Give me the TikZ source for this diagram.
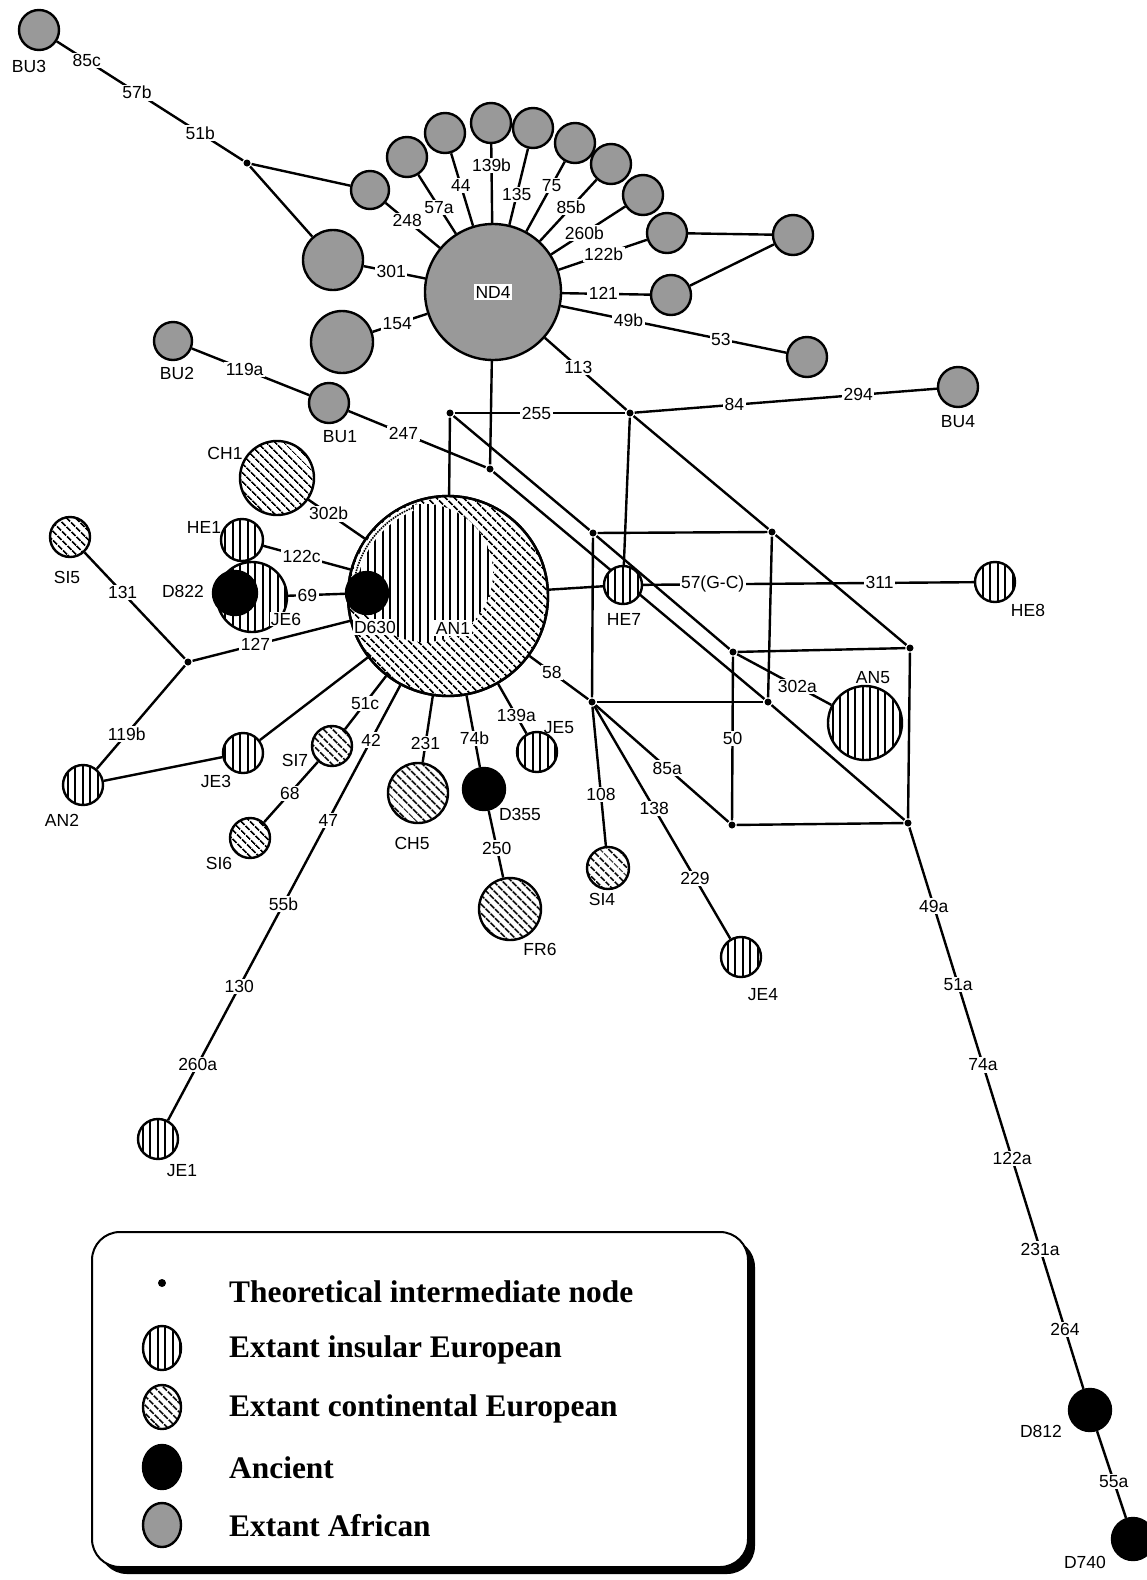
\documentclass[tikz,border=0pt]{standalone}
\usepackage{fontspec}
\setmainfont{Liberation Serif}
\newfontfamily\labfont{Liberation Sans}
\usetikzlibrary{patterns.meta,shapes.geometric}
\pgfdeclarelayer{bg}
\pgfsetlayers{bg,main}
\tikzset{
  hap/.style={circle, draw, line width=2.4pt, inner sep=0pt, minimum size=#1},
  afr/.style={hap=#1, fill=black!40},
  ins/.style={hap=#1, preaction={fill=white}, pattern={Lines[angle=90,distance=7.5pt,line width=2pt]}},
  con/.style={hap=#1, preaction={fill=white}, pattern={Lines[angle=-45,distance=6.5pt,line width=1.9pt]}},
  anc/.style={hap=#1, fill=black},
  jdot/.style={circle, fill=black, inner sep=0pt, minimum size=7pt},
  lab/.style={font=\labfont\fontsize{17.5}{20}\selectfont, inner sep=1.5pt},
  el/.style={lab, fill=white, pos=#1},
  conn/.style={line width=2.4pt},
  legsym/.style={ellipse, draw, line width=2.4pt, inner sep=0pt, minimum width=38pt, minimum height=44pt},
  legtext/.style={font=\bfseries\fontsize{31.4}{36}\selectfont, inner sep=0pt, anchor=west},
}
\begin{document}
\begin{tikzpicture}[x=1pt,y=-1pt,line width=2.4pt]
\useasboundingbox (0,0) rectangle (1147,1580);

% ---------- African ----------
\node[afr=40pt] (BU3) at (39,30) {};
\node[afr=38pt] (A248) at (370,190) {};
\node[afr=60pt] (A301) at (333,260) {};
\node[afr=62pt] (A154) at (342,342) {};
\node[afr=38pt] (BU2) at (173,341) {};
\node[afr=40pt] (BU1) at (329,403) {};
\node[afr=136pt] (ND4) at (493,292) {};
\node[afr=40pt] (P57a) at (407,157) {};
\node[afr=40pt] (P44) at (445,133) {};
\node[afr=40pt] (P139b) at (491,123) {};
\node[afr=40pt] (P135) at (533,128) {};
\node[afr=40pt] (P75) at (575,143) {};
\node[afr=40pt] (P85b) at (611,164) {};
\node[afr=40pt] (P260b) at (643,195) {};
\node[afr=40pt] (P122b) at (667,233) {};
\node[afr=40pt] (Pfar) at (793,235) {};
\node[afr=40pt] (P121) at (671,295) {};
\node[afr=40pt] (P53) at (807,357) {};
\node[afr=40pt] (BU4) at (958,387) {};

% ---------- European / ancient ----------
\node[con=74pt] (CH1) at (277,478) {};
\node[ins=42pt] (HE1) at (242,540) {};
\node[ins=70pt] (JE6) at (252,597) {};
\node[anc=44pt] (D822) at (235,593) {};
\node[con=40pt] (SI5) at (70,537) {};
\node[ins=40pt] (AN2) at (83,785) {};
\node[ins=40pt] (JE3) at (243,753) {};
\node[con=40pt] (SI7) at (332,746) {};
\node[con=40pt] (SI6) at (250,838) {};
\node[con=60pt] (CH5) at (418,793) {};
\node[anc=42pt] (D355) at (484,789) {};
\node[con=62pt] (FR6) at (510,909) {};
\node[ins=40pt] (JE5) at (537,752) {};
\node[con=42pt] (SI4) at (608,868) {};
\node[ins=40pt] (JE4) at (741,957) {};
\node[ins=38pt] (HE7) at (623,585) {};
\node[ins=40pt] (HE8) at (995,582) {};
\node[ins=74pt] (AN5) at (865,723) {};
\node[ins=40pt] (JE1) at (158,1139) {};
\node[anc=42pt] (D812) at (1090,1410) {};
\node[anc=42pt] (D740) at (1133,1539) {};

% ---------- AN1 composite ----------
\node[con=200pt] (AN1) at (448,596) {};
\begin{scope}
  \clip (AN1.center) circle[radius=99pt];
  \fill[white] (424,573) circle[radius=69pt];
  \fill[pattern={Lines[angle=90,distance=7.5pt,line width=2pt]}] (424,573) circle[radius=69pt];
  \draw[white, line width=6pt] ([shift={(112:95pt)}]AN1.center) arc[start angle=112, end angle=176, radius=95pt];
  \draw[densely dotted, line width=1.6pt] ([shift={(112:95pt)}]AN1.center) arc[start angle=112, end angle=176, radius=95pt];
\end{scope}
\draw[line width=2.4pt] (AN1.center) circle[radius=100pt];
\node[anc=42pt] (D630) at (367,593) {};

% ---------- intermediate nodes ----------
\node[jdot] (J1) at (247,163) {};
\node[jdot] (J2) at (490,469) {};
\node[jdot] (J3) at (188,662) {};
\node[jdot] (A) at (630,413) {};
\node[jdot] (B) at (450,413) {};
\node[jdot] (C) at (772,532) {};
\node[jdot] (D) at (593,533) {};
\node[jdot] (E) at (910,648) {};
\node[jdot] (F) at (733,652) {};
\node[jdot] (G) at (768,702) {};
\node[jdot] (H) at (908,823) {};
\node[jdot] (K) at (592,702) {};
\node[jdot] (L) at (732,825) {};

% ---------- names ----------
\node[lab, fill=white] (tND4) at (ND4) {ND4};
\node[lab, fill=white] (tD630) at (375,627) {D630};
\node[lab, fill=white] (tAN1) at (453,628) {AN1};
\node[lab, fill=white, inner sep=0.5pt] (tJE6) at (286,619) {JE6};
\node[lab] (tBU3) at (29,66) {BU3};
\node[lab] (tBU2) at (177,373) {BU2};
\node[lab] (tBU1) at (340,437) {BU1};
\node[lab] (tBU4) at (958,422) {BU4};
\node[lab] (tCH1) at (225,453) {CH1};
\node[lab] (tHE1) at (204,527) {HE1};
\node[lab] (tD822) at (183,591) {D822};
\node[lab] (tSI5) at (67,577) {SI5};
\node[lab] (tJE3) at (216,781) {JE3};
\node[lab] (tAN2) at (62,820) {AN2};
\node[lab] (tSI7) at (295,760) {SI7};
\node[lab] (tSI6) at (219,863) {SI6};
\node[lab] (tCH5) at (412,843) {CH5};
\node[lab] (tD355) at (520,814) {D355};
\node[lab] (tFR6) at (540,949) {FR6};
\node[lab] (tSI4) at (602,899) {SI4};
\node[lab] (tJE4) at (763,995) {JE4};
\node[lab] (tJE5) at (559,728) {JE5};
\node[lab] (tHE7) at (624,619) {HE7};
\node[lab] (tHE8) at (1028,610) {HE8};
\node[lab] (tAN5) at (873,678) {AN5};
\node[lab] (tD812) at (1041,1431) {D812};
\node[lab] (tD740) at (1085,1562) {D740};
\node[lab] (tJE1) at (182,1171) {JE1};

% ---------- connectors ----------
\begin{pgfonlayer}{bg}
\begin{scope}[conn]
\draw (BU3) -- node[el=.16]{85c} node[el=.43]{57b} node[el=.77]{51b} (J1);
\draw (J1) -- (A248);
\draw (J1) -- (A301);
\draw (A248) -- node[el=.4]{248} (ND4);
\draw (A301) -- node[el=.45]{301} (ND4);
\draw (A154) -- node[el=.45]{154} (ND4);
\draw (P57a) -- node[el=.55]{57a} (ND4);
\draw (P44) -- node[el=.45]{44} (ND4);
\draw (P139b) -- node[el=.27]{139b} (ND4);
\draw (P135) -- node[el=.6]{135} (ND4);
\draw (P75) -- node[el=.34]{75} (ND4);
\draw (P85b) -- node[el=.45]{85b} (ND4);
\draw (P260b) -- node[el=.55]{260b} (ND4);
\draw (P122b) -- node[el=.49]{122b} (ND4);
\draw (P121) -- node[el=.53]{121} (ND4);
\draw (Pfar) -- (P122b);
\draw (Pfar) -- (P121);
\draw (ND4) -- node[el=.3]{49b} node[el=.71]{53} (P53);
\draw (ND4) -- node[el=.41]{113} (A);
\draw (A) -- (C);
\draw (C) -- (E);
\draw (A) -- node[el=.33]{84} node[el=.74]{294} (BU4);
\draw (B) -- node[el=.48]{255} (A);
\draw (B) -- (AN1);
\draw (B) -- (D);
\draw (D) -- (F);
\draw (ND4) -- (J2);
\draw (BU1) -- node[el=.4]{247} (J2);
\draw (BU2) -- node[el=.45]{119a} (BU1);
\draw (J2) -- (G);
\draw (G) -- (H);
\draw (D) -- (C);
\draw (D) -- (K);
\draw (K) -- (G);
\draw (C) -- (G);
\draw (F) -- (E);
\draw (F) -- node[el=.5]{50} (L);
\draw (L) -- (H);
\draw (E) -- (H);
\draw (A) -- (HE7);
\draw (AN1) -- (HE7);
\draw (HE7) -- node[el=.21]{57(G-C)} node[el=.715]{311} (HE8);
\draw (F) -- node[el=.64]{302a} (AN5);
\draw (AN1) -- node[el=.38]{58} (K);
\draw (K) -- node[el=.54]{85a} (L);
\draw (K) -- node[el=.63]{108} (SI4);
\draw (K) -- node[el=.44]{138} node[el=.74]{229} (JE4);
\draw (H) -- node[el=.14]{49a} node[el=.28]{51a} node[el=.423]{74a} node[el=.59]{122a} node[el=.751]{231a} node[el=.894]{264} (D812);
\draw (D812) -- node[el=.58]{55a} (D740);
\draw (AN1) -- node[el=.6]{127} (J3);
\draw (J3) -- node[el=.62]{131} (SI5);
\draw (J3) -- node[el=.66]{119b} (AN2);
\draw (AN2) -- (JE3);
\draw (AN1) -- (JE3);
\draw (AN1) -- node[el=.51]{51c} (SI7);
\draw (SI7) -- node[el=.52]{68} (SI6);
\draw (AN1) -- node[el=.126]{42} node[el=.31]{47} node[el=.503]{55b} node[el=.693]{130} node[el=.872]{260a} (JE1);
\draw (AN1) -- node[el=.72]{231} (CH5);
\draw (AN1) -- node[el=.6]{74b} (D355);
\draw (D355) -- node[el=.56]{250} (FR6);
\draw (AN1) -- node[el=.64]{139a} (JE5);
\draw (JE6) -- node[el=.34]{69} (D630);
\draw (HE1) -- node[el=.44]{122c} (AN1);
\draw (CH1) -- node[el=.36]{302b} (AN1);
\end{scope}
\end{pgfonlayer}

% ---------- legend ----------
\fill[black, rounded corners=28pt] (99,1239) rectangle (755,1574);
\draw[fill=white, rounded corners=28pt, line width=2pt] (92,1232) rectangle (748,1567);
\node[jdot, minimum size=8pt] (L1) at (162,1283) {};
\node[legsym, preaction={fill=white}, pattern={Lines[angle=90,distance=7.5pt,line width=2pt]}] (L2) at (162,1348) {};
\node[legsym, preaction={fill=white}, pattern={Lines[angle=-45,distance=6.5pt,line width=1.9pt]}] (L3) at (162,1407) {};
\node[legsym, fill=black] (L4) at (162,1467) {};
\node[legsym, fill=black!40] (L5) at (162,1525) {};
\node[legtext] (T1) at (229,1292) {Theoretical intermediate node};
\node[legtext] (T2) at (229,1350) {Extant insular European};
\node[legtext] (T3) at (229,1409) {Extant continental European};
\node[legtext] (T4) at (229,1468) {Ancient};
\node[legtext] (T5) at (229,1526) {Extant African};
\end{tikzpicture}
\end{document}
